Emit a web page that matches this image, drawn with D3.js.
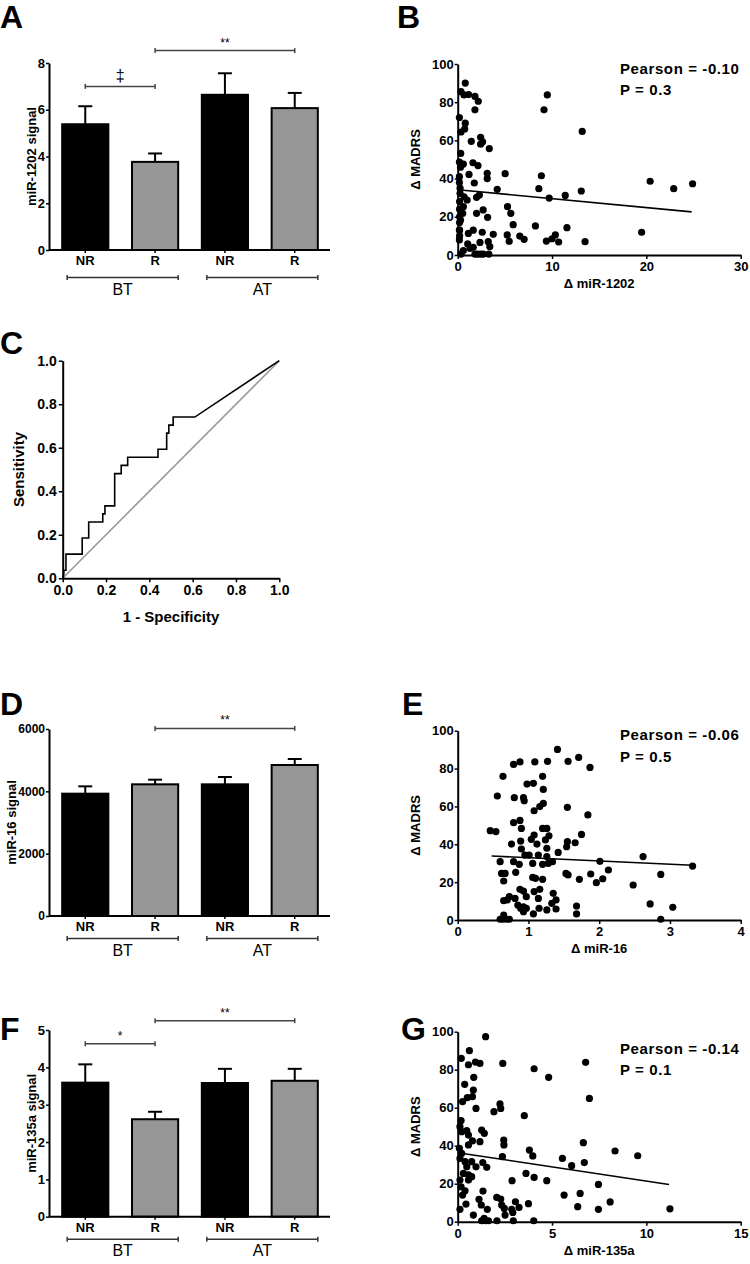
<!DOCTYPE html>
<html><head><meta charset="utf-8">
<script src="https://cdn.jsdelivr.net/npm/d3@7/dist/d3.min.js"></script>
<style>
html,body{margin:0;padding:0;background:#fff;}
svg{display:block;font-family:"Liberation Sans",Arial,sans-serif;}
</style></head>
<body>
<svg id="fig" width="750" height="1264"></svg>
<script>
// ---------- DATA ----------
const barGroups = ["NR","R","NR","R"];
const barPeriods = ["BT","AT"];
const barFill = ["black","gray","black","gray"];

const miR1202Mean = [5.38, 3.77, 6.64, 6.07];
const miR1202Err  = [6.15, 4.13, 7.56, 6.72];
const miR1202Ticks = [0,2,4,6,8];

const miR16Mean = [3925, 4225, 4225, 4845];
const miR16Err  = [4160, 4374, 4460, 5037];
const miR16Ticks = [0,2000,4000,6000];

const miR135aMean = [3.59, 2.61, 3.58, 3.64];
const miR135aErr  = [4.08, 2.81, 3.96, 3.96];
const miR135aTicks = [0,1,2,3,4,5];

// significance brackets: [fromIndex, toIndex, level(value units), symbol]
const sigA = [[0,1,7.0,"‡"],[1,3,8.53,"**"]];
const sigD = [[1,3,6020,"**"]];
const sigF = [[0,1,4.63,"*"],[1,3,5.25,"**"]];

// Scatter B: Δ miR-1202 vs Δ MADRS
const scatterB = [
[0.8,90],[0.35,85.5],[0.67,83.8],[1.16,84],[1.83,83],[2.18,80.5],[1.83,76],[9.5,83.8],[9.15,76],
[0.18,72],[0.8,69],[0.74,66],[0.35,64.4],[1.44,59.5],[2.43,61.6],[2.43,58],[2.64,59.3],[3.35,55.7],
[13.2,64.7],[0.32,53.2],[0.18,48.7],[0.6,47.6],[0.3,46],[1.62,48.3],[2.15,46.8],[1.2,42.2],[3.13,42.8],
[3.13,40],[5.03,42.6],[8.87,41.5],[0.18,41],[0.18,38],[1.76,37.7],[4.19,34.4],[8.6,34.7],[13.1,33.5],
[11.4,31.2],[9.7,29.8],[20.4,38.6],[22.9,34.7],[24.9,37.3],[2.0,30.2],[2.3,31.4],[1.0,28.8],[0.67,30.5],
[0.25,32.3],[0.25,35],[2.0,21.8],[2.7,23.6],[3.17,19.7],[5.28,25.3],[5.63,21.8],[5.88,15.9],[8.24,15.2],
[11.58,14.3],[19.5,11.9],[0.2,28],[0.2,24],[0.2,20],[0.2,17],[0.2,13],[0.2,10],[0.6,25.3],[0.53,21.8],
[0.3,18.3],[0.18,13.1],[1.13,11.3],[1.65,13],[2.6,11.9],[3.77,10.8],[5.25,10.5],[5.46,7.2],[6.58,9.9],
[7.04,8.2],[9.4,7.3],[10,8.5],[10.35,10.5],[10.7,6.8],[13.5,7],[1.06,5.8],[2.36,6.6],[3.24,7],[0.6,2.3],
[1.3,3.5],[1.65,4],[3.4,4.4],[0.18,7.9],[0.35,0.5],[1.83,0.5],[2.11,0.5],[2.43,0.5],[2.71,0.5],[3.3,0.5]
];
const fitB = [[0,34.2],[24.8,22.6]];
const statB = ["Pearson = -0.10","P = 0.3"];

// Scatter E: Δ miR-16 vs Δ MADRS
const scatterE = [
[1.41,90.1],[1.71,85.9],[1.56,83.8],[1.27,83.8],[1.09,83.5],[0.88,83.5],[0.79,82.2],[1.87,80.6],[0.64,75.9],
[1.2,75.9],[1.07,72.2],[0.98,71.8],[1.21,69],[0.56,65.5],[0.8,64.6],[0.93,64.6],[0.94,63],[1.21,61.6],
[1.16,59.9],[1.55,59.5],[1.08,57.7],[1.84,55.5],[0.88,52.6],[0.79,51.4],[0.9,48.4],[1.2,48.4],[1.26,48.4],
[0.46,47.2],[0.54,46.7],[1.75,45.2],[1.08,44.9],[1.29,44.5],[1.24,42.3],[0.89,41.7],[1.04,42.6],[1.55,41.4],
[1.66,40.8],[0.76,40.1],[1.12,40.1],[1.54,38.7],[1.26,37.9],[0.9,37.5],[1.42,35.7],[0.95,34.3],[1.01,34.3],
[1.14,34.3],[1.26,33.5],[2.62,33.5],[0.6,30.8],[0.79,30.8],[1.34,30.8],[2.01,31],[0.87,29.4],[1.06,29.9],
[1.2,29.4],[1.28,29.9],[3.32,28.5],[2.13,26.4],[0.62,24.6],[0.67,24.6],[1.53,24.6],[1.56,23.8],[1.88,24.3],
[2.87,24.1],[0.82,25.2],[1.06,22.5],[1.1,22],[2.05,21.8],[1.72,21.5],[1.2,21.5],[0.65,20.6],[1.96,19.7],
[2.48,18.5],[0.88,16.2],[1.16,16.2],[0.93,15.3],[1.08,15],[1.35,14.1],[0.97,12.3],[0.73,12.3],[1.14,11.4],
[0.81,11.4],[0.65,10.2],[0.7,10.6],[1.39,10.6],[1.33,8.8],[2.72,8.5],[0.85,7.9],[0.93,7],[1.68,7.4],
[3.04,6.7],[0.89,6.2],[0.97,6.2],[1.39,5.8],[1.26,5.3],[1.15,6.2],[0.93,4.4],[1.07,3.2],[1.68,3.2],
[0.65,2.6],[0.6,0.4],[0.64,0.4],[0.69,0.4],[0.73,0.4],[2.87,0.4]
];
const fitE = [[0.48,33.8],[3.32,28.9]];
const statE = ["Pearson = -0.06","P = 0.5"];

// Scatter G: Δ miR-135a vs Δ MADRS
const scatterG = [
[1.48,97.4],[0.62,90],[0.19,86],[0.57,82.6],[0.94,84],[1.18,83.3],[2.39,83.3],[4.05,80.5],[4.82,76],
[6.78,83.9],[0.37,72.3],[0.85,76],[0.83,69.3],[0.78,65.8],[0.51,65.3],[0.26,63.2],[0.97,59.6],[2.24,62],
[2.28,59.6],[1.92,57.9],[3.53,55.8],[6.98,64.9],[0.18,53.2],[0.12,50],[0.21,47.4],[0.48,47.9],[0.57,45.6],
[1.27,48.2],[1.41,46.5],[0.78,42.5],[1.18,42.1],[2.44,43],[2.45,40.4],[0.57,40.4],[0.09,38.6],[6.66,41.6],
[3.8,37.7],[3.98,34.6],[2.37,34.2],[5.55,33.3],[6.04,29.5],[6.71,31.1],[8.34,37.2],[9.54,34.7],[0.21,36],
[0.12,33.3],[0.39,31.6],[0.74,31.6],[0.48,28.9],[0.97,28.9],[1.33,31.1],[1.54,28.6],[0.3,25.4],[0.57,24.6],
[0.74,23.7],[0.57,21.9],[0.12,21.9],[0.18,18.4],[0.39,16.3],[0.26,14],[3.62,25.4],[4.05,23.3],[2.88,21.6],
[4.72,21.6],[7.46,19.6],[1.34,16.1],[5.64,14],[6.49,14.9],[2.07,12.8],[1.13,11.8],[2.28,11.9],[8.08,10.4],
[3.06,10.5],[0.44,9.3],[1.25,8.8],[2.33,8.8],[3.75,9.5],[3.25,7.5],[6.36,7.9],[7.46,6.5],[11.25,6.8],
[0.12,6.5],[1.57,6.5],[2.47,7],[2.86,6.5],[0.83,3.5],[2.51,3.5],[2.92,4.9],[1.4,1.75],[1.27,0.5],
[1.48,0.5],[1.63,0.5],[2.08,0.5],[2.95,0.5],[4.03,0.5]
];
const fitG = [[0.09,36.2],[11.2,19.6]];
const statG = ["Pearson = -0.14","P = 0.1"];

// ROC curve (panel C)
const rocFpr = [0,0.005,0.005,0.015,0.015,0.09,0.09,0.12,0.12,0.185,0.185,0.195,0.195,0.24,0.24,0.27,0.27,0.30,0.30,0.44,0.44,0.48,0.48,0.49,0.49,0.51,0.51,0.61,1];
const rocTpr = [0,0.02,0.037,0.037,0.111,0.111,0.185,0.185,0.259,0.259,0.296,0.296,0.333,0.333,0.481,0.481,0.519,0.519,0.556,0.556,0.593,0.593,0.667,0.667,0.704,0.704,0.741,0.741,1];
const rocTicks = [0,0.2,0.4,0.6,0.8,1.0];

// ---------- DRAWING ----------
const svg = d3.select("#fig");
const GRAY = "#969696";
const FONT = "'Liberation Sans', Arial, sans-serif";

function styleAxis(g, size){
  g.attr("font-family", FONT).attr("font-size", size || 13).attr("font-weight", "bold");
  g.select(".domain").attr("stroke-width", 2).attr("stroke", "#000");
  g.selectAll(".tick line").attr("stroke-width", 1.5).attr("stroke", "#000");
  g.selectAll(".tick text").attr("fill", "#000");
}

function panelLetter(t, x, y){
  svg.append("text").attr("x", x).attr("y", y).text(t)
    .attr("font-family", FONT).attr("font-size", 32).attr("font-weight", "bold");
}

function yTitle(t, x, yc, size){
  svg.append("text").attr("transform", `translate(${x},${yc}) rotate(-90)`)
    .attr("text-anchor", "middle").attr("dominant-baseline", "central")
    .attr("font-family", FONT).attr("font-size", size || 13).attr("font-weight", "bold").text(t);
}

function barPanel(opt){
  const x = d3.scaleBand().domain(d3.range(barGroups.length)).range([50, 330])
    .paddingInner(0.31).paddingOuter(0.16);
  const y = d3.scaleLinear().domain([0, opt.max]).range([opt.y0, opt.yTop]);
  const g = svg.append("g");
  g.selectAll("rect.bar").data(opt.mean).join("rect")
    .attr("x", (d,i) => x(i) + 1).attr("width", x.bandwidth() - 2)
    .attr("y", d => y(d)).attr("height", d => y(0) - y(d))
    .attr("fill", (d,i) => barFill[i] === "black" ? "#000" : GRAY)
    .attr("stroke", "#000").attr("stroke-width", 2);
  const cx = i => x(i) + x.bandwidth()/2;
  g.selectAll("line.err").data(opt.err).join("line")
    .attr("x1", (d,i) => cx(i)).attr("x2", (d,i) => cx(i))
    .attr("y1", (d,i) => y(opt.mean[i])).attr("y2", d => y(d))
    .attr("stroke", "#000").attr("stroke-width", 2);
  g.selectAll("line.cap").data(opt.err).join("line")
    .attr("x1", (d,i) => cx(i) - 7).attr("x2", (d,i) => cx(i) + 7)
    .attr("y1", d => y(d)).attr("y2", d => y(d))
    .attr("stroke", "#000").attr("stroke-width", 2);
  const ya = svg.append("g").attr("transform", "translate(49,0)")
    .call(d3.axisLeft(y).tickValues(opt.ticks).tickSize(3).tickSizeOuter(0).tickPadding(1).tickFormat(d3.format("d")));
  styleAxis(ya, opt.tickSize);
  const xa = svg.append("g").attr("transform", `translate(0,${opt.y0})`)
    .call(d3.axisBottom(x).tickSize(3).tickSizeOuter(0).tickPadding(3).tickFormat(i => barGroups[i]));
  styleAxis(xa, 13);
  xa.select(".domain").attr("d", `M49,0H330`);
  barPeriods.forEach((p, k) => {
    const a = x(2*k) + 6, b = x(2*k+1) + x.bandwidth() - 1;
    const gy = opt.y0 + opt.grpOff;
    svg.append("line").attr("x1", a).attr("x2", b).attr("y1", gy).attr("y2", gy)
      .attr("stroke", "#333").attr("stroke-width", 1.5);
    [a,b].forEach(v => svg.append("line").attr("x1", v).attr("x2", v).attr("y1", gy-2.5).attr("y2", gy+2.5)
      .attr("stroke", "#333").attr("stroke-width", 1.5));
    svg.append("text").attr("x", (a+b)/2).attr("y", gy + 17).attr("text-anchor", "middle")
      .attr("font-family", FONT).attr("font-size", 16).text(p);
  });
  opt.sig.forEach(([i, j, lev, sym]) => {
    const a = cx(i), b = cx(j), sy = y(lev);
    svg.append("line").attr("x1", a).attr("x2", b).attr("y1", sy).attr("y2", sy)
      .attr("stroke", "#444").attr("stroke-width", 1.5);
    [a,b].forEach(v => svg.append("line").attr("x1", v).attr("x2", v).attr("y1", sy-2.5).attr("y2", sy+2.5)
      .attr("stroke", "#444").attr("stroke-width", 1.5));
    const big = sym === "‡";
    svg.append("text").attr("x", (a+b)/2).attr("y", sy - (big ? 5 : 4)).attr("text-anchor", "middle")
      .attr("font-family", FONT).attr("font-size", big ? 16 : 12).text(sym);
  });
  yTitle(opt.title, opt.titleX, (opt.y0 + opt.yTop)/2, 13);
}

function scatterPanel(opt){
  const x = d3.scaleLinear().domain([0, opt.xMax]).range([457.7, 740.7]);
  const y = d3.scaleLinear().domain([0, 100]).range([opt.y0, opt.yTop]);
  const g = svg.append("g");
  g.selectAll("circle").data(opt.pts).join("circle")
    .attr("cx", d => x(d[0])).attr("cy", d => y(d[1])).attr("r", 3.6).attr("fill", "#000");
  g.append("path").datum(opt.fit)
    .attr("d", d3.line().x(d => x(d[0])).y(d => y(d[1])))
    .attr("stroke", "#000").attr("stroke-width", 1.6).attr("fill", "none");
  const ya = svg.append("g").attr("transform", `translate(${x(0)},0)`)
    .call(d3.axisLeft(y).tickValues([0,20,40,60,80,100]).tickSize(3).tickSizeOuter(0).tickPadding(1).tickFormat(d3.format("d")));
  styleAxis(ya, 13);
  const xa = svg.append("g").attr("transform", `translate(0,${opt.y0})`)
    .call(d3.axisBottom(x).tickValues(opt.xTicks).tickSize(4).tickSizeOuter(0).tickPadding(3).tickFormat(d3.format("d")));
  styleAxis(xa, 13);
  yTitle("Δ MADRS", 415, (opt.y0 + opt.yTop)/2, 13);
  svg.append("text").attr("x", (x(0) + x(opt.xMax))/2).attr("y", opt.y0 + 33)
    .attr("text-anchor", "middle").attr("font-family", FONT).attr("font-size", 13)
    .attr("font-weight", "bold").text(opt.xTitle);
  opt.stat.forEach((s, k) => {
    svg.append("text").attr("x", 620).attr("y", opt.statY + k*21.5)
      .attr("font-family", FONT).attr("font-size", 15).attr("font-weight", "bold")
      .attr("letter-spacing", 0.6).text(s);
  });
}

// Panel A
panelLetter("A", 0, 28);
barPanel({mean: miR1202Mean, err: miR1202Err, ticks: miR1202Ticks, max: 8, y0: 250, yTop: 63,
  grpOff: 27.5, sig: sigA, title: "miR-1202 signal", titleX: 31, tickSize: 13});
// Panel D
panelLetter("D", 0, 715);
barPanel({mean: miR16Mean, err: miR16Err, ticks: miR16Ticks, max: 6000, y0: 916, yTop: 729,
  grpOff: 22.5, sig: sigD, title: "miR-16 signal", titleX: 11, tickSize: 12});
// Panel F
panelLetter("F", 0, 1040);
barPanel({mean: miR135aMean, err: miR135aErr, ticks: miR135aTicks, max: 5, y0: 1216.7, yTop: 1030,
  grpOff: 22.5, sig: sigF, title: "miR-135a signal", titleX: 31, tickSize: 13});

// Panel B
panelLetter("B", 397, 28);
scatterPanel({pts: scatterB, fit: fitB, xMax: 30, xTicks: [0,10,20,30], y0: 255, yTop: 64,
  xTitle: "Δ miR-1202", stat: statB, statY: 73.5});
// Panel E
panelLetter("E", 402, 715);
scatterPanel({pts: scatterE, fit: fitE, xMax: 4, xTicks: [0,1,2,3,4], y0: 920, yTop: 730.7,
  xTitle: "Δ miR-16", stat: statE, statY: 740});
// Panel G
panelLetter("G", 401, 1040);
scatterPanel({pts: scatterG, fit: fitG, xMax: 15, xTicks: [0,5,10,15], y0: 1221.7, yTop: 1031.7,
  xTitle: "Δ miR-135a", stat: statG, statY: 1053.5});

// Panel C (ROC)
panelLetter("C", 0, 354);
{
  const x = d3.scaleLinear().domain([0,1]).range([62.7, 279.3]);
  const y = d3.scaleLinear().domain([0,1]).range([578.3, 360.7]);
  svg.append("path").datum([[0,0],[1,1]])
    .attr("d", d3.line().x(d => x(d[0])).y(d => y(d[1])))
    .attr("stroke", "#999").attr("stroke-width", 1.6).attr("fill", "none");
  svg.append("path").datum(rocFpr.map((f,i) => [f, rocTpr[i]]))
    .attr("d", d3.line().x(d => x(d[0])).y(d => y(d[1])))
    .attr("stroke", "#000").attr("stroke-width", 1.6).attr("fill", "none");
  const ya = svg.append("g").attr("transform", `translate(${x(0)},0)`)
    .call(d3.axisLeft(y).tickValues(rocTicks).tickSize(4).tickSizeOuter(0).tickPadding(2).tickFormat(d3.format(".1f")));
  styleAxis(ya, 14);
  const xa = svg.append("g").attr("transform", `translate(0,${y(0)})`)
    .call(d3.axisBottom(x).tickValues(rocTicks).tickSize(4).tickSizeOuter(0).tickPadding(3).tickFormat(d3.format(".1f")));
  styleAxis(xa, 14);
  yTitle("Sensitivity", 18, (y(0)+y(1))/2, 15);
  svg.append("text").attr("x", (x(0)+x(1))/2).attr("y", 622).attr("text-anchor", "middle")
    .attr("font-family", FONT).attr("font-size", 15).attr("font-weight", "bold").text("1 - Specificity");
}
</script>
</body></html>
